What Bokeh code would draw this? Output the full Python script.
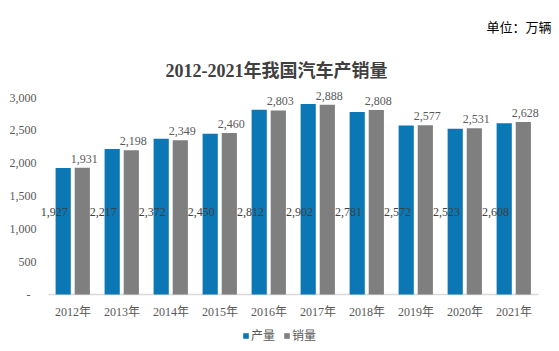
from bokeh.plotting import figure
from bokeh.models import (ColumnDataSource, FactorRange, Range1d, FixedTicker,
                          NumeralTickFormatter, Label, Legend, LegendItem, Title)
from bokeh.transform import dodge
from bokeh.core.properties import value
from bokeh.embed import file_html
from bokeh.resources import INLINE

years = ["2012年", "2013年", "2014年", "2015年", "2016年",
         "2017年", "2018年", "2019年", "2020年", "2021年"]
production = [1927, 2217, 2372, 2450, 2812, 2902, 2781, 2572, 2523, 2608]
sales = [1931, 2198, 2349, 2460, 2803, 2888, 2808, 2577, 2531, 2628]
y_ticks = [0, 500, 1000, 1500, 2000, 2500, 3000]
title_text = "2012-2021年我国汽车产销量"
unit_text = "单位：万辆"

FONT = "Liberation Serif, Noto Sans CJK SC"
BLUE = "#0B78B5"
GRAY = "#7F7F7F"
TXT = "#595959"

src = ColumnDataSource(dict(
    years=years, production=production, sales=sales,
    plab=[f"{v:,}" for v in production], slab=[f"{v:,}" for v in sales],
    mid=[1250] * len(years),
))
axis_src = ColumnDataSource(dict(x0=[years[0]], x1=[years[-1]], y=[0]))

p = figure(frame_width=526, frame_height=301, output_backend="svg", toolbar_location=None,
           x_range=FactorRange(*years, range_padding=0.367, range_padding_units="absolute"),
           y_range=Range1d(-868, 3716),
           min_border_left=30, min_border_right=3, min_border_top=50,
           min_border_bottom=0)
p.outline_line_color = None
p.xgrid.grid_line_color = None
p.ygrid.grid_line_color = None
p.background_fill_color = "white"
p.border_fill_color = "white"

p.segment(x0=dodge("x0", -0.5, range=p.x_range), x1=dodge("x1", 0.5, range=p.x_range),
          y0="y", y1="y", source=axis_src, line_color="#D9D9D9", line_width=1.5)

r1 = p.vbar(x=dodge("years", -0.2, range=p.x_range), top="production", width=0.31,
            source=src, fill_color=BLUE, line_color=None)
r2 = p.vbar(x=dodge("years", 0.19, range=p.x_range), top="sales", width=0.31,
            source=src, fill_color=GRAY, line_color=None)

p.text(x=dodge("years", -0.38, range=p.x_range), y="mid", text="plab", source=src,
       text_font=value(FONT), text_font_size="12px", text_color="#404040",
       text_align="center", text_baseline="middle")
p.text(x=dodge("years", 0.23, range=p.x_range), y="sales", text="slab", source=src,
       text_font=value(FONT), text_font_size="12px", text_color=TXT,
       text_align="center", text_baseline="bottom", y_offset=-5)

xa = p.xaxis[0]
xa.fixed_location = 0
xa.axis_line_color = None
xa.major_tick_line_color = None
xa.minor_tick_line_color = None
xa.major_tick_out = 0
xa.major_label_text_font = FONT
xa.major_label_text_font_size = "12px"
xa.major_label_text_color = TXT
xa.major_label_standoff = 10

ya = p.yaxis[0]
ya.axis_line_color = None
ya.major_tick_line_color = None
ya.minor_tick_line_color = None
ya.major_tick_out = 0
ya.ticker = FixedTicker(ticks=y_ticks)
ya.formatter = NumeralTickFormatter(format="0,0")
ya.major_label_overrides = {0: "-  "}
ya.major_label_text_font = FONT
ya.major_label_text_font_size = "12px"
ya.major_label_text_color = TXT
ya.major_label_standoff = -6

p.add_layout(Label(x=246, y=281, x_units="screen", y_units="screen", text=title_text,
                   text_font=FONT, text_font_size="18px", text_font_style="bold",
                   text_color="#404040", text_align="center", text_baseline="middle"))
p.add_layout(Title(text=unit_text, align="right", offset=5, standoff=32,
                   text_font=FONT, text_font_size="13px", text_font_style="normal",
                   text_color="#000000"), "above")

legend = Legend(items=[LegendItem(label="产量", renderers=[r1]),
                       LegendItem(label="销量", renderers=[r2])],
                orientation="horizontal", location=(212, 7),
                glyph_width=7, glyph_height=7, label_height=12, label_text_font=FONT,
                label_text_font_size="12px", label_text_color=TXT,
                border_line_color=None, background_fill_alpha=0,
                spacing=8, padding=0, margin=0, label_standoff=2)
p.add_layout(legend, "center")

open("out.html", "w").write(file_html(p, INLINE))
